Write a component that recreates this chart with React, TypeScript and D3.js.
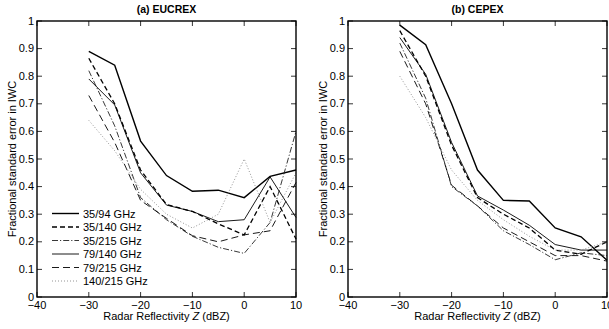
import React from "react";
import * as d3 from "d3";

const zValues = [-30, -25, -20, -15, -10, -5, 0, 5, 10];
const seriesNames = ["35/94 GHz", "35/140 GHz", "35/215 GHz", "79/140 GHz", "79/215 GHz", "140/215 GHz"];

const eucrex35_94 = [0.89, 0.84, 0.565, 0.44, 0.383, 0.387, 0.36, 0.437, 0.46];
const eucrex35_140 = [0.865, 0.7, 0.46, 0.335, 0.31, 0.265, 0.225, 0.4, 0.21];
const eucrex35_215 = [0.82, 0.62, 0.36, 0.28, 0.22, 0.18, 0.158, 0.27, 0.6];
const eucrex79_140 = [0.79, 0.696, 0.45, 0.333, 0.31, 0.273, 0.28, 0.435, 0.288];
const eucrex79_215 = [0.73, 0.56, 0.35, 0.285, 0.222, 0.2, 0.225, 0.24, 0.415];
const eucrex140_215 = [0.64, 0.53, 0.39, 0.3, 0.25, 0.3, 0.5, 0.27, 0.45];

const cepex35_94 = [0.985, 0.914, 0.7, 0.46, 0.35, 0.348, 0.25, 0.218, 0.133];
const cepex35_140 = [0.965, 0.8, 0.55, 0.36, 0.3, 0.25, 0.17, 0.155, 0.2];
const cepex35_215 = [0.92, 0.72, 0.4, 0.33, 0.24, 0.19, 0.135, 0.16, 0.15];
const cepex79_140 = [0.94, 0.807, 0.56, 0.366, 0.315, 0.26, 0.19, 0.17, 0.17];
const cepex79_215 = [0.89, 0.7, 0.405, 0.33, 0.25, 0.2, 0.15, 0.15, 0.13];
const cepex140_215 = [0.8, 0.65, 0.46, 0.35, 0.28, 0.22, 0.17, 0.17, 0.2];

const xTicks = [-40, -30, -20, -10, 0, 10];
const yTicks = [0, 0.1, 0.2, 0.3, 0.4, 0.5, 0.6, 0.7, 0.8, 0.9, 1];

const styles = [
  { stroke: "#000", width: 1.4, dash: "" },
  { stroke: "#000", width: 1.3, dash: "5,3" },
  { stroke: "#222", width: 0.9, dash: "6,2,1.2,2" },
  { stroke: "#000", width: 0.9, dash: "" },
  { stroke: "#000", width: 0.9, dash: "7,4" },
  { stroke: "#888", width: 0.9, dash: "1,2" },
];

const FONT = "Liberation Sans, Arial, Helvetica, sans-serif";

function fmtTick(v: number) {
  const s = d3.format("")(v);
  return s.replace("-", "\u2212");
}

function Panel({ left, right, title, data, legend }: { left: number; right: number; title: string; data: number[][]; legend: boolean }) {
  const top = 21;
  const bottom = 297;
  const x = d3.scaleLinear().domain([-40, 10]).range([left, right]);
  const y = d3.scaleLinear().domain([0, 1]).range([bottom, top]);
  const line = d3
    .line<number>()
    .x((_, i) => x(zValues[i]))
    .y((v) => y(v));
  const tl = 5;
  return (
    <g>
      <text x={(left + right) / 2} y={13} textAnchor="middle" fontSize={10.5} fontWeight="bold" fontFamily={FONT}>
        {title}
      </text>
      {data.map((d, k) => (
        <path key={k} d={line(d) || ""} fill="none" stroke={styles[k].stroke} strokeWidth={styles[k].width} strokeDasharray={styles[k].dash} />
      ))}
      {xTicks.map((t) => (
        <g key={"x" + t}>
          <line x1={x(t)} x2={x(t)} y1={bottom} y2={bottom - tl} stroke="#000" strokeWidth={0.8} />
          <line x1={x(t)} x2={x(t)} y1={top} y2={top + tl} stroke="#000" strokeWidth={0.8} />
          <text x={x(t)} y={bottom + 12} textAnchor="middle" fontSize={11} fontFamily={FONT}>
            {fmtTick(t)}
          </text>
        </g>
      ))}
      {yTicks.map((t) => (
        <g key={"y" + t}>
          <line x1={left} x2={left + tl} y1={y(t)} y2={y(t)} stroke="#000" strokeWidth={0.8} />
          <line x1={right} x2={right - tl} y1={y(t)} y2={y(t)} stroke="#000" strokeWidth={0.8} />
          <text x={left - 3} y={y(t) + 3.5} textAnchor="end" fontSize={11} fontFamily={FONT}>
            {fmtTick(t)}
          </text>
        </g>
      ))}
      <rect x={left} y={top} width={right - left} height={bottom - top} fill="none" stroke="#000" strokeWidth={1.4} />
      <text x={(left + right) / 2} y={320} textAnchor="middle" fontSize={11} fontFamily={FONT}>
        Radar Reflectivity  <tspan fontStyle="italic">Z</tspan> (dBZ)
      </text>
      <text
        transform={`translate(${left - 21},${(top + bottom) / 2}) rotate(-90)`}
        textAnchor="middle"
        fontSize={11}
        fontFamily={FONT}
      >
        Fractional standard error in IWC
      </text>
      {legend &&
        seriesNames.map((n, k) => {
          const ly = 213.5 + k * 13.5;
          return (
            <g key={n}>
              <line x1={52} x2={79} y1={ly} y2={ly} stroke={styles[k].stroke} strokeWidth={styles[k].width} strokeDasharray={styles[k].dash} />
              <text x={83} y={ly + 4} fontSize={11} fontFamily={FONT}>
                {n}
              </text>
            </g>
          );
        })}
    </g>
  );
}

export default function App() {
  const eucrex = [eucrex35_94, eucrex35_140, eucrex35_215, eucrex79_140, eucrex79_215, eucrex140_215];
  const cepex = [cepex35_94, cepex35_140, cepex35_215, cepex79_140, cepex79_215, cepex140_215];
  return (
    <svg width={609} height={329} style={{ position: "absolute", left: 0, top: 0, background: "#fff" }}>
      <rect width={609} height={329} fill="#fff" />
      <Panel left={37} right={296} title="(a) EUCREX" data={eucrex} legend={true} />
      <Panel left={348} right={607} title="(b) CEPEX" data={cepex} legend={false} />
    </svg>
  );
}
